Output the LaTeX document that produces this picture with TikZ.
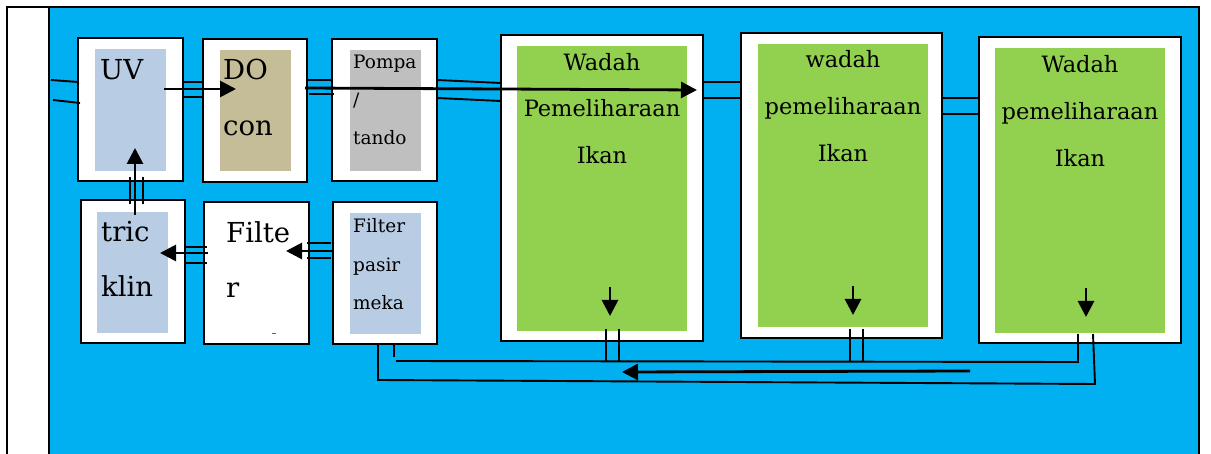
\documentclass[tikz,border=0pt]{standalone}
\usepackage{fontspec}
\setmainfont{DejaVu Serif}
\usetikzlibrary{arrows.meta}
\definecolor{bgblue}{HTML}{00B0F0}
\definecolor{ltblue}{HTML}{B8CCE4}
\definecolor{tan}{HTML}{C4BD97}
\definecolor{midgray}{HTML}{BFBFBF}
\definecolor{grn}{HTML}{92D050}
\tikzset{
  outerbox/.style={draw=black,line width=2.1pt,fill=white,anchor=north west,inner sep=0pt,outer sep=0pt},
  innerbox/.style={anchor=north west,inner sep=0pt,outer sep=0pt,draw=none},
  pipe/.style={draw=black,line width=1.9pt},
  flow/.style={draw=black,line width=2.8pt,-{Triangle[length=16pt,width=16pt]}},
  bigtxt/.style={anchor=base west,inner sep=0pt,font=\fontsize{27.5}{30}\selectfont},
  midtxt/.style={anchor=base,inner sep=0pt,font=\fontsize{22.5}{26}\selectfont},
  smalltxt/.style={anchor=base west,inner sep=0pt,font=\fontsize{18.5}{22}\selectfont},
}
\begin{document}
\begin{tikzpicture}[x=1pt,y=-1pt]
\useasboundingbox (0,0) rectangle (1211,454);
% background
\fill[white] (0,0) rectangle (1211,454);
\fill[bgblue] (49,8) rectangle (1199,454);
\draw[line width=2.4pt] (7,454) -- (7,7) -- (1199,7) -- (1199,454);
\draw[line width=2.4pt] (49,8) -- (49,454);

% boxes top row
\node[outerbox,minimum width=105,minimum height=143] (uv) at (78,38) {};
\node[innerbox,fill=ltblue,minimum width=71,minimum height=122] (uvin) at (95,49) {};
\node[outerbox,minimum width=104,minimum height=143] (do) at (203,39) {};
\node[innerbox,fill=tan,minimum width=71,minimum height=121] (doin) at (220,50) {};
\node[outerbox,minimum width=105,minimum height=142] (pompa) at (332,39) {};
\node[innerbox,fill=midgray,minimum width=71,minimum height=121] (pompain) at (350,50) {};
\node[outerbox,minimum width=202,minimum height=306] (wa) at (501,35) {};
\node[innerbox,fill=grn,minimum width=170,minimum height=285] (wain) at (517,46) {};
\node[outerbox,minimum width=201,minimum height=305] (wb) at (741,33) {};
\node[innerbox,fill=grn,minimum width=170,minimum height=283] (wbin) at (758,44) {};
\node[outerbox,minimum width=202,minimum height=306] (wc) at (979,37) {};
\node[innerbox,fill=grn,minimum width=170,minimum height=285] (wcin) at (995,48) {};
% boxes bottom row
\node[outerbox,minimum width=104,minimum height=143] (tric) at (81,200) {};
\node[innerbox,fill=ltblue,minimum width=71,minimum height=121] (tricin) at (97,212) {};
\node[outerbox,minimum width=105,minimum height=142] (filt) at (204,202) {};
\node[outerbox,minimum width=104,minimum height=142] (fpas) at (333,202) {};
\node[innerbox,fill=ltblue,minimum width=71,minimum height=121] (fpasin) at (350,213) {};

% texts
\node[bigtxt] (tuv) at (100,80) {UV};
\node[bigtxt] (tdo1) at (223,80) {DO};
\node[bigtxt] (tdo2) at (223,136) {con};
\node[smalltxt] (tp1) at (353,69) {Pompa};
\node[smalltxt] (tp2) at (353,107) {/};
\node[smalltxt] (tp3) at (353,145) {tando};
\node[midtxt] (ta1) at (602,71) {Wadah};
\node[midtxt] (ta2) at (602,117) {Pemeliharaan};
\node[midtxt] (ta3) at (602,164) {Ikan};
\node[midtxt] (tb1) at (843,68) {wadah};
\node[midtxt] (tb2) at (843,115) {pemeliharaan};
\node[midtxt] (tb3) at (843,162) {Ikan};
\node[midtxt] (tc1) at (1080,73) {Wadah};
\node[midtxt] (tc2) at (1080,120) {pemeliharaan};
\node[midtxt] (tc3) at (1080,167) {Ikan};
\node[bigtxt] (tt1) at (101,242) {tric};
\node[bigtxt] (tt2) at (101,297) {klin};
\node[bigtxt] (tf1) at (226,243) {Filte};
\node[bigtxt] (tf2) at (226,298) {r};
\node[smalltxt] (ts1) at (353,233) {Filter};
\node[smalltxt] (ts2) at (353,272) {pasir};
\node[smalltxt] (ts3) at (353,310) {meka};
\draw[line width=0.8pt,black!60] (272,333) -- (276,333);

% free ends
\coordinate (inA) at (51,80);
\coordinate (inB) at (53,100);

% pipes top
\draw[pipe] (inA) -- (uv.west |- 0,82);
\draw[pipe] (inB) -- ([xshift=2pt]uv.west |- 0,103);
\draw[pipe] (uv.east |- 0,82) -- (do.west |- 0,82);
\draw[pipe] (uv.east |- 0,97) -- (do.west |- 0,97);
\draw[pipe] (do.east |- 0,80) -- (pompa.west |- 0,80);
\draw[pipe] ([xshift=2pt]do.east |- 0,94) -- ([xshift=2pt]pompa.west |- 0,94);
\draw[pipe] (pompa.east |- 0,80) -- (wa.west |- 0,83);
\draw[pipe] (pompa.east |- 0,98) -- (wa.west |- 0,101);
\draw[pipe] (wa.east |- 0,82) -- (wb.west |- 0,82);
\draw[pipe] (wa.east |- 0,98) -- (wb.west |- 0,98);
\draw[pipe] (wb.east |- 0,98) -- (wc.west |- 0,98);
\draw[pipe] (wb.east |- 0,114) -- (wc.west |- 0,114);
% pipes bottom row
\draw[pipe] (130,177) -- (130,204);
\draw[pipe] (143,177) -- (143,204);
\draw[pipe] (tric.east |- 0,247) -- ([xshift=3pt]filt.west |- 0,247);
\draw[pipe] (tric.east |- 0,263) -- ([xshift=3pt]filt.west |- 0,263);
\draw[pipe] ([xshift=-2pt]filt.east |- 0,243) -- ([xshift=-2pt]fpas.west |- 0,243);
\draw[pipe] ([xshift=-2pt]filt.east |- 0,258) -- ([xshift=-2pt]fpas.west |- 0,258);
% return pipes
\draw[pipe] (378,344) -- (378,380) -- (1095,384) -- (1093,334);
\draw[pipe] (394,344) -- (394,357);
\draw[pipe] (396,361) -- (1078,362) -- (1078,334);
\draw[pipe] (606,329) -- (606,361);
\draw[pipe] (619,329) -- (619,361);
\draw[pipe] (850,329) -- (850,361);
\draw[pipe] (863,329) -- (863,361);

% flow arrows
\draw[flow] (164,89) -- (236,89);
\draw[flow] (305,88) -- (697,90);
\draw[flow] (135,215) -- (135,148);
\draw[flow] (208,253) -- (160,253);
\draw[flow] (334,251) -- (286,251);
\draw[flow] (970,371) -- (622,372);
\draw[flow] (610,287) -- (610,316);
\draw[flow] (853,286) -- (853,315);
\draw[flow] (1086,288) -- (1086,317);
\end{tikzpicture}
\end{document}
